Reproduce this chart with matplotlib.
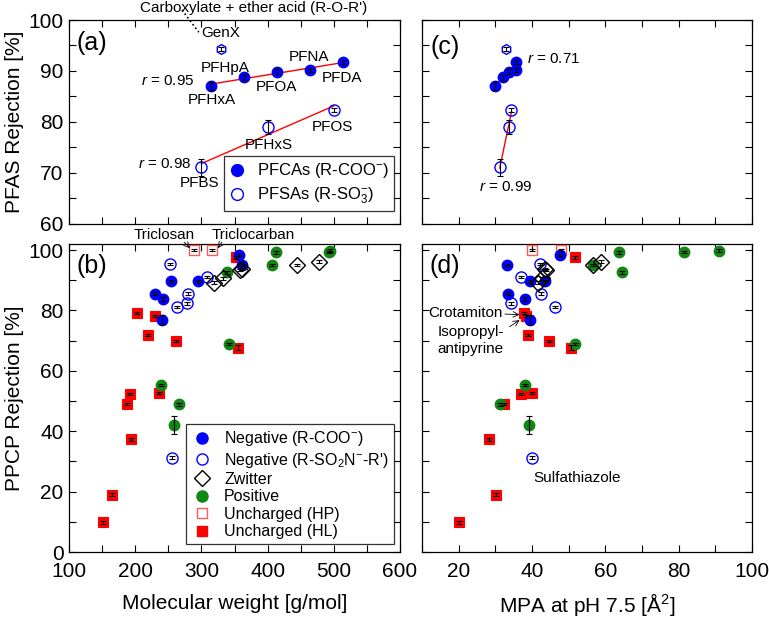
import numpy as np
import matplotlib
matplotlib.use('Agg')
import matplotlib.pyplot as plt
from matplotlib.lines import Line2D
from matplotlib.ticker import MultipleLocator

plt.rcParams['font.family'] = ['Liberation Sans', 'DejaVu Sans']
plt.rcParams['mathtext.fontset'] = 'custom'
plt.rcParams['mathtext.rm'] = 'Liberation Sans'
plt.rcParams['mathtext.it'] = 'Liberation Sans:italic'

# PFAS (panels a, c)
pfca_names = ['PFHxA', 'PFHpA', 'PFOA', 'PFNA', 'PFDA']
pfca_mw = [314, 364, 414, 464, 514]
pfca_mpa = [30.0, 32.1, 33.7, 35.7, 35.5]
pfca_rej = [87.1, 88.8, 89.9, 90.2, 91.7]
pfca_err = [0.8, 0.5, 0.4, 0.4, 0.4]

pfsa_names = ['PFBS', 'PFHxS', 'PFOS']
pfsa_mw = [300, 400, 500]
pfsa_mpa = [31.2, 33.7, 34.4]
pfsa_rej = [71.1, 79.0, 82.4]
pfsa_err = [1.6, 1.3, 0.4]

genx_mw = [330]
genx_mpa = [32.8]
genx_rej = [94.4]
genx_err = [0.4]

# PPCPs (panels b, d)
neg_coo_mw = [357, 362, 254, 295, 230, 242, 240]
neg_coo_mpa = [47.7, 33.2, 39.4, 43.5, 33.5, 38.2, 39.5]
neg_coo_rej = [98.3, 95.0, 89.6, 89.6, 85.6, 83.7, 76.9]
neg_coo_err = [0.4, 0.4, 0.4, 0.4, 0.4, 0.6, 1.5]

neg_son_mw = [253, 309, 280, 278, 263, 255]
neg_son_mpa = [42.1, 37.1, 42.5, 34.2, 46.3, 40.1]
neg_son_rej = [95.3, 91.0, 85.6, 82.3, 81.2, 31.2]
neg_son_err = [0.4, 0.4, 0.4, 0.4, 0.4, 0.5]

zw_mw = [319, 333, 359, 362, 444, 478]
zw_mpa = [41.6, 42.8, 43.9, 43.5, 56.5, 58.9]
zw_rej = [89.2, 90.6, 93.4, 93.7, 95.0, 96.2]
zw_err = [0.4, 0.4, 0.4, 0.4, 0.4, 0.4]

pos_mw = [413, 493, 495, 406, 339, 341, 238.5, 265.7, 258.6]
pos_mpa = [63.7, 81.4, 90.9, 56.5, 64.5, 51.8, 38.2, 31.4, 39.1]
pos_rej = [99.2, 99.4, 99.8, 95.0, 92.6, 68.9, 55.4, 48.9, 42.2]
pos_err = [0.4, 0.4, 0.4, 0.4, 0.4, 0.4, 0.4, 0.4, 3.0]

hp_mw = [289.5, 315.5]
hp_mpa = [39.9, 47.8]
hp_rej = [100.0, 100.0]
hp_err = [0.4, 0.4]

hl_mw = [352, 203.3, 230.3, 219, 261.5, 355.7, 191.6, 236.4, 188, 193.7, 165, 151]
hl_mpa = [51.8, 37.8, 38.3, 38.9, 44.6, 50.6, 36.9, 40.0, 32.4, 28.3, 30.3, 20.0]
hl_rej = [97.6, 79.2, 78.1, 71.8, 69.8, 67.6, 52.3, 52.6, 49.0, 37.3, 19.0, 9.8]
hl_err = [0.5, 0.4, 0.4, 0.4, 0.4, 0.8, 0.4, 0.4, 0.4, 0.4, 0.4, 0.6]

blue = '#0000ff'
green = '#118811'
red = '#ff0000'
hp_red = '#ff5a5a'

fs = 11       # annotations
tfs = 15      # ticks / axis labels
pfs = 18      # panel letters


def group(ax, x, y, err, marker, ms, face, edge, mew=1.0):
    ax.plot(x, y, linestyle='none', marker=marker, ms=ms, mfc=face, mec=edge, mew=mew, zorder=3)
    ax.errorbar(x, y, yerr=err, fmt='none', ecolor='k', elinewidth=0.8, capsize=2, capthick=0.8, zorder=4)


def fit_line(ax, x, y):
    p = np.polyfit(x, y, 1)
    xx = np.array([min(x), max(x)])
    ax.plot(xx, np.polyval(p, xx), color='red', lw=1.0, zorder=2)


def style(ax, xlim, ylim, xmaj, xmin, ymaj, ymin, xlab, ylab):
    ax.set_xlim(*xlim)
    ax.set_ylim(*ylim)
    ax.xaxis.set_major_locator(MultipleLocator(xmaj))
    ax.xaxis.set_minor_locator(MultipleLocator(xmin))
    ax.yaxis.set_major_locator(MultipleLocator(ymaj))
    ax.yaxis.set_minor_locator(MultipleLocator(ymin))
    ax.tick_params(which='both', direction='in', top=True, right=True, length=5, width=0.8,
                   labelsize=tfs, labelbottom=xlab, labelleft=ylab)
    ax.tick_params(axis='x', pad=7)
    ax.tick_params(axis='y', pad=4)
    for s in ax.spines.values():
        s.set_linewidth(0.9)


fig = plt.figure(figsize=(7.69, 6.19), dpi=100)
W, H = 769, 619
ax_a = fig.add_axes([69 / W, 1 - 224 / H, 331 / W, 204 / H])
ax_b = fig.add_axes([69 / W, 1 - 552 / H, 331 / W, 308 / H])
ax_c = fig.add_axes([422 / W, 1 - 224 / H, 330 / W, 204 / H])
ax_d = fig.add_axes([422 / W, 1 - 552 / H, 330 / W, 308 / H])

# (a) PFAS vs MW
fit_line(ax_a, pfca_mw, pfca_rej)
fit_line(ax_a, pfsa_mw, pfsa_rej)
group(ax_a, pfca_mw, pfca_rej, pfca_err, 'o', 7.5, blue, blue)
group(ax_a, pfsa_mw, pfsa_rej, pfsa_err, 'o', 8, 'none', blue)
group(ax_a, genx_mw, genx_rej, genx_err, 'h', 7, 'none', blue)
style(ax_a, (100, 600), (60, 100), 100, 50, 10, 5, False, True)
ax_a.set_ylabel('PFAS Rejection [%]', fontsize=tfs)
ax_a.yaxis.set_label_coords(-0.135, 0.5)

ax_a.text(134, 95.4, '(a)', fontsize=pfs, ha='center', va='center')
ax_a.text(329.6, 97.4, 'GenX', fontsize=fs, ha='center', va='center')
ax_a.text(335.6, 90.5, 'PFHpA', fontsize=fs, ha='center', va='center')
ax_a.text(315.5, 84.3, 'PFHxA', fontsize=fs, ha='center', va='center')
ax_a.text(412.7, 86.8, 'PFOA', fontsize=fs, ha='center', va='center')
ax_a.text(463, 92.7, 'PFNA', fontsize=fs, ha='center', va='center')
ax_a.text(512, 88.7, 'PFDA', fontsize=fs, ha='center', va='center')
ax_a.text(498, 79.1, 'PFOS', fontsize=fs, ha='center', va='center')
ax_a.text(402.5, 75.5, 'PFHxS', fontsize=fs, ha='center', va='center')
ax_a.text(297, 68.0, 'PFBS', fontsize=fs, ha='center', va='center')
ax_a.text(290, 88.0, '$r$ = 0.95', fontsize=fs, ha='right', va='center')
ax_a.text(285, 71.7, '$r$ = 0.98', fontsize=fs, ha='right', va='center')
ax_a.text(379.5, 102.35, "Carboxylate + ether acid (R-O-R')", fontsize=fs, ha='center', va='center',
          clip_on=False)
ax_a.plot([270.7, 296], [101.96, 97.6], color='k', ls=':', lw=1.2, clip_on=False)

leg_a = [Line2D([], [], ls='none', marker='o', ms=8.5, mfc=blue, mec=blue, label='PFCAs (R-COO$^{-}$)'),
         Line2D([], [], ls='none', marker='o', ms=8.5, mfc='none', mec=blue, label='PFSAs (R-SO$_3^{-}$)')]
la = ax_a.legend(handles=leg_a, loc='lower left', bbox_to_anchor=(0.468, 0.064), borderaxespad=0,
                 fontsize=12, frameon=True, fancybox=False, edgecolor='k', handlelength=1.0,
                 labelspacing=0.3, borderpad=0.3, handletextpad=0.7)
la.get_frame().set_linewidth(0.9)

# (c) PFAS vs MPA
fit_line(ax_c, pfca_mpa, pfca_rej)
fit_line(ax_c, pfsa_mpa, pfsa_rej)
group(ax_c, pfca_mpa, pfca_rej, pfca_err, 'o', 7.5, blue, blue)
group(ax_c, pfsa_mpa, pfsa_rej, pfsa_err, 'o', 8, 'none', blue)
group(ax_c, genx_mpa, genx_rej, genx_err, 'h', 7, 'none', blue)
style(ax_c, (10, 100), (60, 100), 20, 10, 10, 5, False, False)
ax_c.text(16.4, 94.8, '(c)', fontsize=pfs, ha='center', va='center')
ax_c.text(38.7, 92.3, '$r$ = 0.71', fontsize=fs, ha='left', va='center')
ax_c.text(32.8, 67.3, '$r$ = 0.99', fontsize=fs, ha='center', va='center')


def ppcp(ax, xs):
    x_coo, x_son, x_zw, x_pos, x_hp, x_hl = xs
    group(ax, x_hl, hl_rej, hl_err, 's', 6.5, red, red, 0.8)
    group(ax, x_hp, hp_rej, hp_err, 's', 7, 'none', hp_red, 1.0)
    group(ax, x_pos, pos_rej, pos_err, 'o', 7.5, green, green)
    group(ax, x_coo, neg_coo_rej, neg_coo_err, 'o', 7.5, blue, blue)
    group(ax, x_son, neg_son_rej, neg_son_err, 'o', 8, 'none', blue)
    group(ax, x_zw, zw_rej, zw_err, 'D', 8.5, 'none', 'k', 1.0)


# (b) PPCP vs MW
ppcp(ax_b, (neg_coo_mw, neg_son_mw, zw_mw, pos_mw, hp_mw, hl_mw))
style(ax_b, (100, 600), (0, 102), 100, 50, 20, 10, True, True)
ax_b.set_ylabel('PPCP Rejection [%]', fontsize=tfs)
ax_b.yaxis.set_label_coords(-0.135, 0.5)
ax_b.set_xlabel('Molecular weight [g/mol]', fontsize=tfs)
ax_b.xaxis.set_label_coords(0.5, -0.135)
ax_b.text(134, 94.7, '(b)', fontsize=pfs, ha='center', va='center')
ax_b.text(244, 105, 'Triclosan', fontsize=fs, ha='center', va='center', clip_on=False)
ax_b.text(378, 105, 'Triclocarban', fontsize=fs, ha='center', va='center', clip_on=False)
ax_b.annotate('', xy=(283, 100.6), xytext=(274, 102.6), annotation_clip=False,
              arrowprops=dict(arrowstyle='->', lw=0.6, color='k', shrinkA=0, shrinkB=0))
ax_b.annotate('', xy=(325, 100.6), xytext=(331, 102.6), annotation_clip=False,
              arrowprops=dict(arrowstyle='->', lw=0.6, color='k', shrinkA=0, shrinkB=0))

leg_b = [Line2D([], [], ls='none', marker='o', ms=8, mfc=blue, mec=blue, label='Negative (R-COO$^{-}$)'),
         Line2D([], [], ls='none', marker='o', ms=8, mfc='none', mec=blue,
                label="Negative (R-SO$_2$N$^{-}$-R')"),
         Line2D([], [], ls='none', marker='D', ms=8, mfc='none', mec='k', label='Zwitter'),
         Line2D([], [], ls='none', marker='o', ms=8, mfc=green, mec=green, label='Positive'),
         Line2D([], [], ls='none', marker='s', ms=7, mfc='none', mec=hp_red, label='Uncharged (HP)'),
         Line2D([], [], ls='none', marker='s', ms=7, mfc=red, mec=red, label='Uncharged (HL)')]
lb = ax_b.legend(handles=leg_b, loc='lower left', bbox_to_anchor=(0.353, 0.026), borderaxespad=0,
                 fontsize=11.5, frameon=True, fancybox=False, edgecolor='k', handlelength=1.4,
                 labelspacing=0.15, borderpad=0.3, handletextpad=0.7)
lb.get_frame().set_linewidth(0.9)

# (d) PPCP vs MPA
ppcp(ax_d, (neg_coo_mpa, neg_son_mpa, zw_mpa, pos_mpa, hp_mpa, hl_mpa))
style(ax_d, (10, 100), (0, 102), 20, 10, 20, 10, True, False)
ax_d.set_xlabel('MPA at pH 7.5 [Å$^2$]', fontsize=tfs)
ax_d.xaxis.set_label_coords(0.5, -0.125)
ax_d.text(16.3, 94.7, '(d)', fontsize=pfs, ha='center', va='center')
ax_d.text(21.9, 79.2, 'Crotamiton', fontsize=fs, ha='center', va='center')
ax_d.text(14.3, 70.0, 'Isopropyl-\nantipyrine', fontsize=fs, ha='left', va='center',
          linespacing=1.3)
ax_d.text(40.5, 24.4, 'Sulfathiazole', fontsize=fs, ha='left', va='center')
ax_d.annotate('', xy=(36.6, 78.6), xytext=(32.6, 78.8),
              arrowprops=dict(arrowstyle='->', lw=0.6, color='k', shrinkA=0, shrinkB=0))
ax_d.annotate('', xy=(36.6, 76.8), xytext=(33.9, 74.6),
              arrowprops=dict(arrowstyle='->', lw=0.6, color='k', shrinkA=0, shrinkB=0))

fig.savefig('out.png', dpi=100)
